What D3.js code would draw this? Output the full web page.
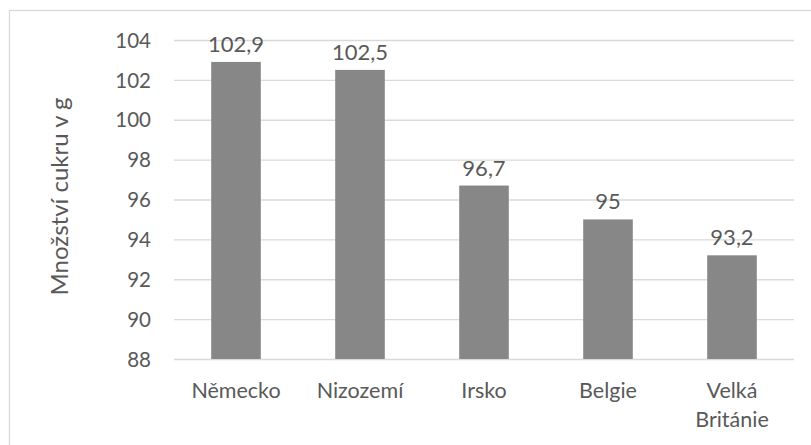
<!DOCTYPE html>
<html>
<head>
<meta charset="utf-8">
<script src="https://cdn.jsdelivr.net/npm/d3@7"></script>
<style>
  html, body { margin: 0; padding: 0; background: #fff; }
  svg { display: block; }
  text { font-family: Lato, "Open Sans", sans-serif; fill: #595959; }
</style>
</head>
<body>
<svg id="chart" width="811" height="445"></svg>
<script>
// Cukr v g podle země
const categories = ["Německo", "Nizozemí", "Irsko", "Belgie", "Velká Británie"];
const values = [102.9, 102.5, 96.7, 95, 93.2];
const yTicks = [88, 90, 92, 94, 96, 98, 100, 102, 104];
const yTitle = "Množství cukru v g";

const svg = d3.select("#chart");
const W = 811, H = 445;
const plot = { left: 174, right: 794, top: 40, bottom: 359 };

// Outer chart frame (extends past the right and bottom edges)
svg.append("rect")
  .attr("x", 9.5).attr("y", 10.5)
  .attr("width", W + 10).attr("height", H + 10)
  .attr("fill", "none").attr("stroke", "#d9d9d9").attr("stroke-width", 1.3);

const x = d3.scaleBand()
  .domain(categories)
  .range([plot.left, plot.right])
  .paddingInner(0.6).paddingOuter(0.3);

const y = d3.scaleLinear()
  .domain([88, 104])
  .range([plot.bottom, plot.top]);

const fmt = v => String(v).replace(".", ",");

// Horizontal gridlines with tick labels
const yAxis = d3.axisLeft(y)
  .tickValues(yTicks)
  .tickSize(-(plot.right - plot.left))
  .tickPadding(23)
  .tickFormat(fmt);

const gy = svg.append("g")
  .attr("transform", `translate(${plot.left},0)`)
  .call(yAxis);
gy.select(".domain").remove();
gy.selectAll(".tick line").attr("stroke", "#d9d9d9").attr("stroke-width", 1.3);
gy.selectAll(".tick text")
  .style("font-size", "20.5px").attr("dy", "0.35em");

// Bars
svg.append("g").selectAll("rect")
  .data(values)
  .join("rect")
  .attr("x", (d, i) => x(categories[i]))
  .attr("y", d => y(d))
  .attr("width", x.bandwidth())
  .attr("height", d => y(88) - y(d))
  .attr("fill", "#878787");

// Value labels
svg.append("g").selectAll("text")
  .data(values)
  .join("text")
  .attr("x", (d, i) => x(categories[i]) + x.bandwidth() / 2)
  .attr("y", d => y(d) - 10)
  .attr("text-anchor", "middle")
  .style("font-size", "22px")
  .text(fmt);

// Category labels (wrapped on spaces)
const gx = svg.append("g");
categories.forEach(c => {
  const words = c.split(" ");
  const t = gx.append("text")
    .attr("x", x(c) + x.bandwidth() / 2)
    .attr("y", 398)
    .attr("text-anchor", "middle")
    .style("font-size", "21.5px");
  words.forEach((w, i) => {
    t.append("tspan")
      .attr("x", x(c) + x.bandwidth() / 2)
      .attr("dy", i === 0 ? 0 : 29)
      .text(w);
  });
});

// Y-axis title
svg.append("text")
  .attr("transform", `translate(68,${(plot.top + plot.bottom) / 2 - 3}) rotate(-90)`)
  .attr("text-anchor", "middle")
  .style("font-size", "24px")
  .text(yTitle);
</script>
</body>
</html>
